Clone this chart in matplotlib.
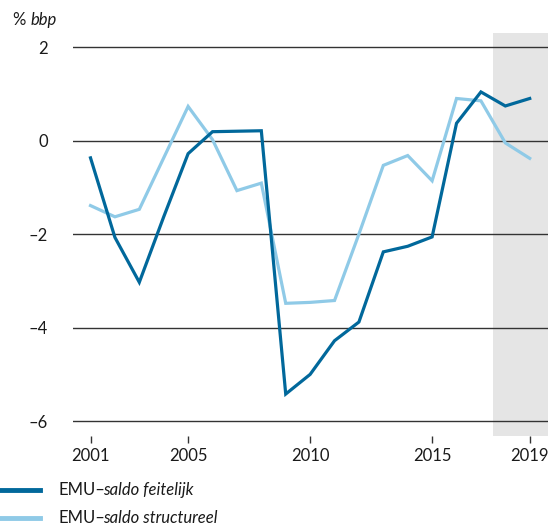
import matplotlib
matplotlib.use("Agg")
import matplotlib.pyplot as plt
from matplotlib.lines import Line2D

years = list(range(2001, 2020))
feitelijk = [-0.37, -2.07, -3.03, -1.63, -0.28, 0.19, 0.20, 0.21, -5.42, -5.00,
             -4.28, -3.88, -2.38, -2.26, -2.06, 0.37, 1.04, 0.74, 0.90]
structureel = [-1.39, -1.63, -1.47, -0.37, 0.73, 0.02, -1.07, -0.91, -3.48, -3.46,
               -3.42, -2.00, -0.53, -0.32, -0.86, 0.90, 0.85, -0.05, -0.38]
xticks = [2001, 2005, 2010, 2015, 2019]
yticks = [-6, -4, -2, 0, 2]
labels = ["feitelijk", "structureel"]

dark = "#01689B"
light = "#8FCAE7"
txt = "#1a1a1a"
FONT = "Lato"
FS = 12

plt.rcParams["font.family"] = [FONT, "DejaVu Sans"]

fig = plt.figure(figsize=(5.52, 5.30), dpi=100)
ax = fig.add_axes([0.1317, 0.178, 0.9928 - 0.1317, 0.9377 - 0.178])

ax.axvspan(2017.5, 2019.75, color="#E5E5E5", lw=0, zorder=0)
for y in yticks:
    ax.axhline(y, color="#333333", lw=1.0, zorder=1)

ax.plot(years, structureel, color=light, lw=2.3, zorder=3, solid_joinstyle="miter")
ax.plot(years, feitelijk, color=dark, lw=2.3, zorder=4, solid_joinstyle="miter")

ax.set_xlim(2000.27, 2019.75)
ax.set_ylim(-6.31, 2.3)
for s in ax.spines.values():
    s.set_visible(False)
ax.set_xticks(xticks)
ax.set_xticklabels([str(x) for x in xticks])
ax.set_yticks(yticks)
ax.set_yticklabels([("\u2013" + str(-v)) if v < 0 else str(v) for v in yticks])
ax.tick_params(axis="x", length=5, width=1.0, color="#333333", pad=4,
               labelsize=FS, labelcolor=txt)
ax.tick_params(axis="y", length=0, pad=18, labelsize=FS, labelcolor=txt)

# y-axis unit label
t1 = fig.text(13 / 552, 1 - 20 / 530, "% ", fontsize=FS, color=txt, va="center", ha="left")
fig.canvas.draw()
r = fig.canvas.get_renderer()
bb = t1.get_window_extent(r)
fig.text(bb.x1 / 552, 1 - 20 / 530, "bbp", fontsize=FS, color=txt, va="center",
         ha="left", style="italic")

# manual legend
for i, (lab, col) in enumerate(zip(labels, [dark, light])):
    ypix = 490 + i * 28
    yf = 1 - ypix / 530
    fig.add_artist(Line2D([0, 40 / 552], [yf, yf], color=col, lw=3.5,
                          transform=fig.transFigure))
    ta = fig.text(58 / 552, yf, "EMU\u2013", fontsize=FS, color=txt, va="center", ha="left")
    fig.canvas.draw()
    bb = ta.get_window_extent(fig.canvas.get_renderer())
    fig.text((bb.x1 - 2) / 552, yf, "saldo " + lab, fontsize=FS, color=txt, va="center",
             ha="left", style="italic")

fig.savefig("out.png", dpi=100)
